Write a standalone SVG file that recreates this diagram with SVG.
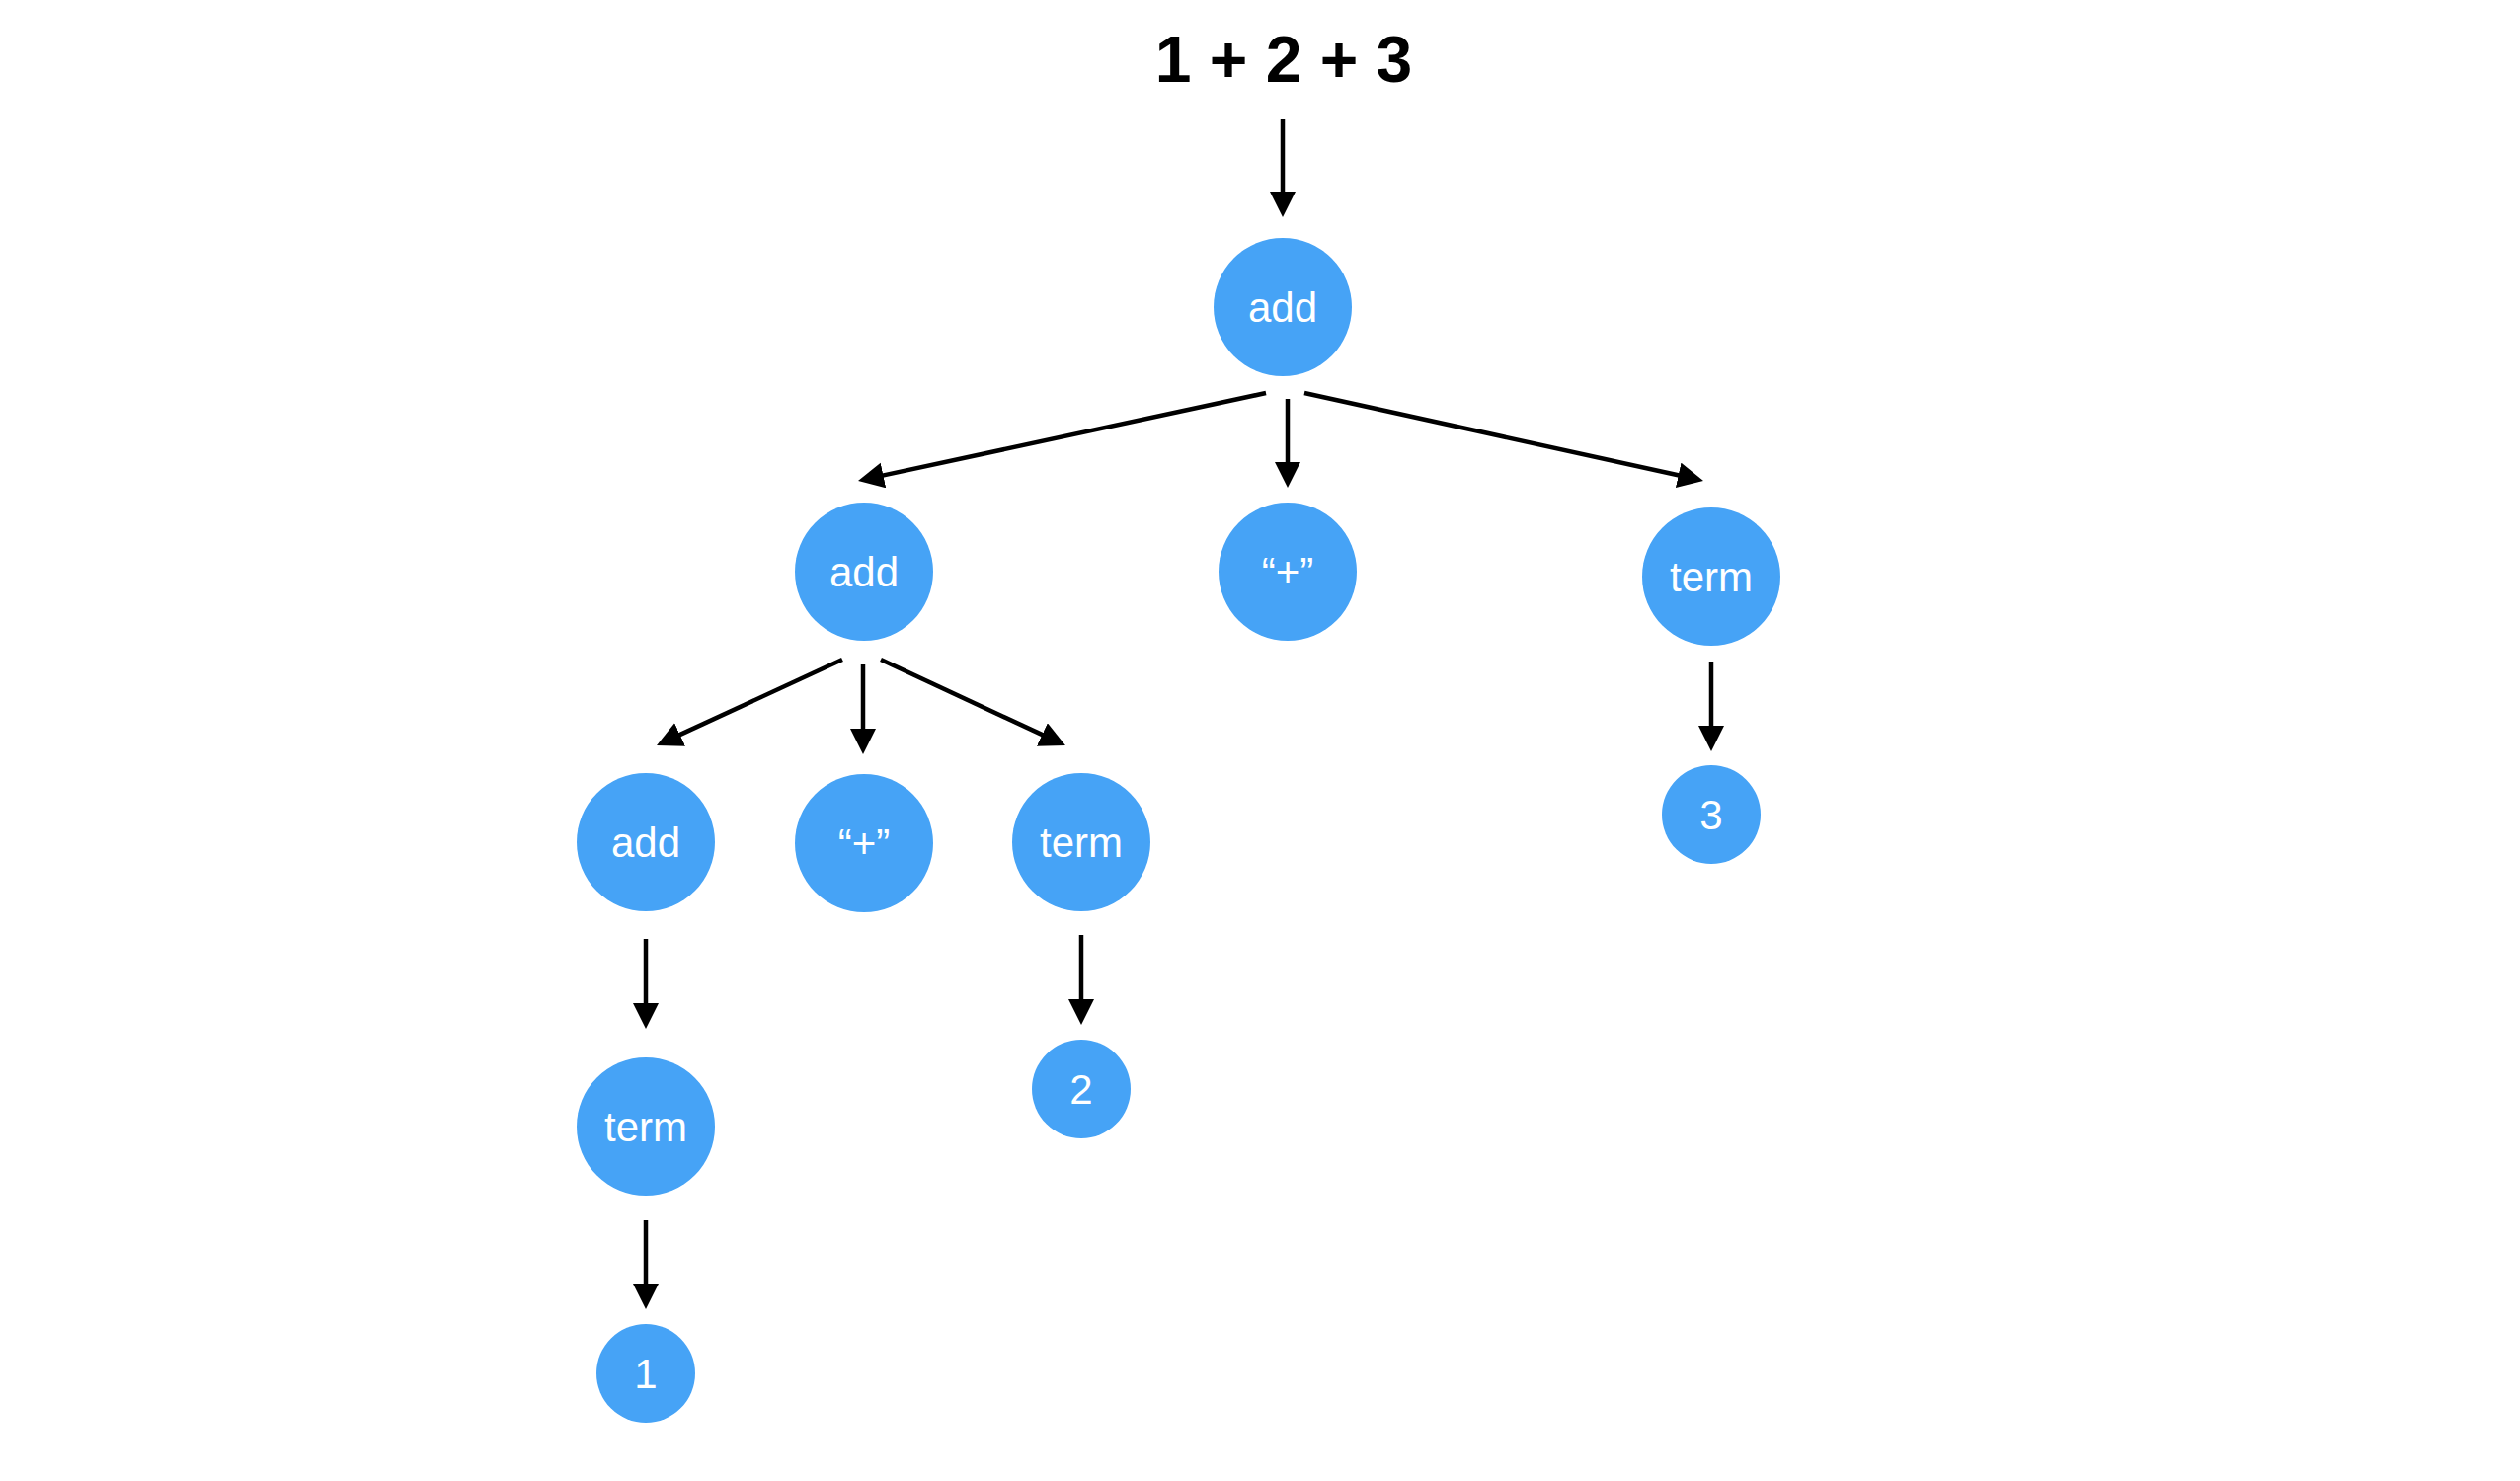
<svg xmlns="http://www.w3.org/2000/svg" width="2552" height="1500" viewBox="0 0 2552 1500">
<style>
.n{fill:#46A3F6}
.t{fill:#fff;font-family:"Liberation Sans",Arial,sans-serif;font-size:42px;text-anchor:middle}
.e{stroke:#000;stroke-width:4.5;fill:none;marker-end:url(#ah)}
.title{fill:#000;font-family:"Liberation Sans",Arial,sans-serif;font-size:66px;font-weight:bold;text-anchor:middle}
</style>
<defs>
<marker id="ah" markerUnits="userSpaceOnUse" markerWidth="28" markerHeight="28" refX="2" refY="13" orient="auto">
<path d="M0,0 L26,13 L0,26 z" fill="#000"/>
</marker>
</defs>
<rect width="2552" height="1500" fill="#fff"/>
<g id="title"><text class="title" x="1300" y="83">1 + 2 + 3</text></g>
<g id="connectors">
<line class="e" x1="1299" y1="121" x2="1299" y2="196"/>
<line class="e" x1="1282" y1="398" x2="892.5" y2="481.9"/>
<line class="e" x1="1304" y1="404" x2="1304" y2="470"/>
<line class="e" x1="1321" y1="398" x2="1701.6" y2="481.8"/>
<line class="e" x1="853" y1="668" x2="686.8" y2="744.9"/>
<line class="e" x1="874" y1="673" x2="874" y2="740"/>
<line class="e" x1="892" y1="668" x2="1057.2" y2="744.9"/>
<line class="e" x1="654" y1="951" x2="654" y2="1018"/>
<line class="e" x1="654" y1="1236" x2="654" y2="1302"/>
<line class="e" x1="1095" y1="947" x2="1095" y2="1014"/>
<line class="e" x1="1733" y1="670" x2="1733" y2="737"/>
</g>
<g id="add-root"><circle class="n" cx="1299" cy="311" r="70"/><text class="t" x="1299" y="326">add</text></g>
<g id="add-1"><circle class="n" cx="875" cy="579" r="70"/><text class="t" x="875" y="594">add</text></g>
<g id="plus-1"><circle class="n" cx="1304" cy="579" r="70"/><text class="t" x="1304" y="594">“+”</text></g>
<g id="term-3"><circle class="n" cx="1733" cy="584" r="70"/><text class="t" x="1733" y="599">term</text></g>
<g id="add-2"><circle class="n" cx="654" cy="853" r="70"/><text class="t" x="654" y="868">add</text></g>
<g id="plus-2"><circle class="n" cx="875" cy="854" r="70"/><text class="t" x="875" y="869">“+”</text></g>
<g id="term-2"><circle class="n" cx="1095" cy="853" r="70"/><text class="t" x="1095" y="868">term</text></g>
<g id="term-1"><circle class="n" cx="654" cy="1141" r="70"/><text class="t" x="654" y="1156">term</text></g>
<g id="num-1"><circle class="n" cx="654" cy="1391" r="50"/><text class="t" x="654" y="1406">1</text></g>
<g id="num-2"><circle class="n" cx="1095" cy="1103" r="50"/><text class="t" x="1095" y="1118">2</text></g>
<g id="num-3"><circle class="n" cx="1733" cy="825" r="50"/><text class="t" x="1733" y="840">3</text></g>
</svg>
